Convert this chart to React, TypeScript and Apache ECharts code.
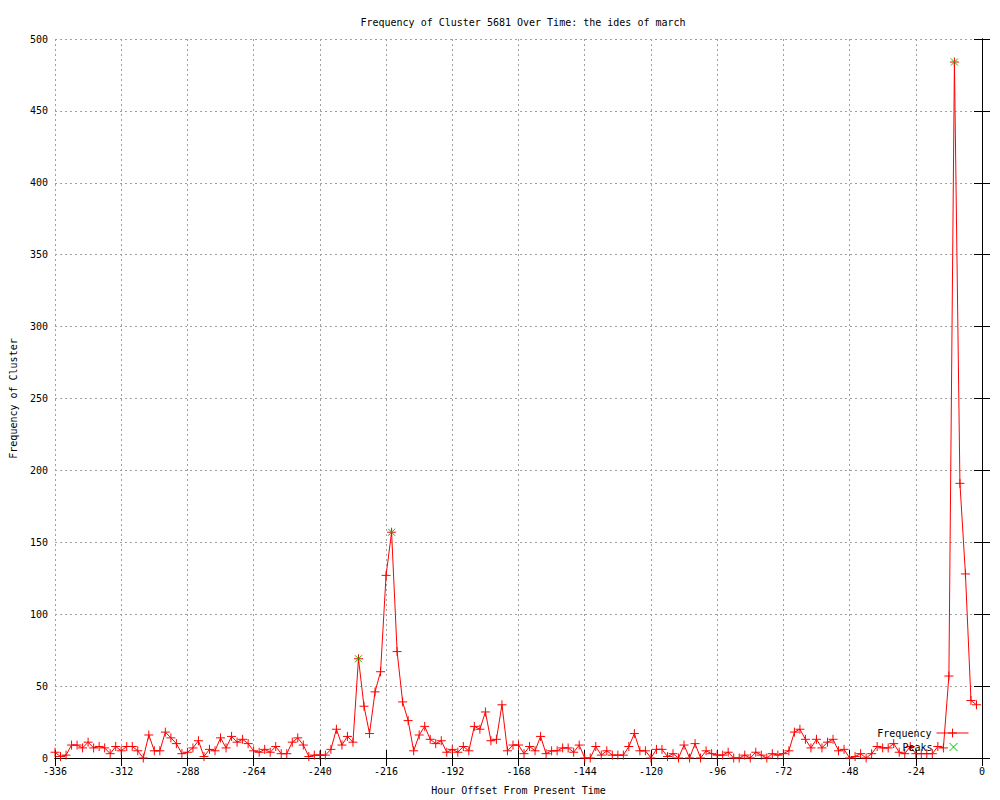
import { useEffect, useRef } from "react";
import * as echarts from "echarts";

const TITLE = "Frequency of Cluster 5681 Over Time: the ides of march";
const X_NAME = "Hour Offset From Present Time";
const Y_NAME = "Frequency of Cluster";
const LEGEND_NAMES = ["Frequency", "Peaks"];

const HOURS = [
  -336, -334, -332, -330, -328, -326, -324, -322, -320, -318, -316, -314,
  -312, -310, -308, -306, -304, -302, -300, -298, -296, -294, -292, -290,
  -288, -286, -284, -282, -280, -278, -276, -274, -272, -270, -268, -266,
  -264, -262, -260, -258, -256, -254, -252, -250, -248, -246, -244, -242,
  -240, -238, -236, -234, -232, -230, -228, -226, -224, -222, -220, -218,
  -216, -214, -212, -210, -208, -206, -204, -202, -200, -198, -196, -194,
  -192, -190, -188, -186, -184, -182, -180, -178, -176, -174, -172, -170,
  -168, -166, -164, -162, -160, -158, -156, -154, -152, -150, -148, -146,
  -144, -142, -140, -138, -136, -134, -132, -130, -128, -126, -124, -122,
  -120, -118, -116, -114, -112, -110, -108, -106, -104, -102, -100, -98,
  -96, -94, -92, -90, -88, -86, -84, -82, -80, -78, -76, -74,
  -72, -70, -68, -66, -64, -62, -60, -58, -56, -54, -52, -50,
  -48, -46, -44, -42, -40, -38, -36, -34, -32, -30, -28, -26,
  -24, -22, -20, -18, -16, -14, -12, -10, -8, -6, -4, -2,
];

const FREQUENCY = [
  4, 1, 2, 9, 9, 7, 11, 7, 8, 7, 3, 8,
  5, 8, 8, 5, 0, 16, 5, 5, 18, 14, 10, 3,
  4, 7, 12, 1, 6, 5, 14, 7, 15, 11, 13, 10,
  5, 4, 6, 4, 8, 3, 3, 11, 14, 9, 1, 2,
  2, 2, 6, 20, 9, 15, 11, 69, 36, 17, 46, 60,
  127, 157, 74, 39, 26, 5, 16, 22, 13, 10, 12, 4,
  6, 4, 8, 5, 22, 20, 32, 12, 13, 37, 5, 9,
  9, 3, 8, 5, 15, 3, 5, 5, 7, 7, 4, 9,
  0, 0, 8, 2, 5, 2, 2, 2, 8, 17, 5, 5,
  0, 6, 6, 1, 3, 0, 9, 0, 10, 0, 5, 3,
  2, 2, 4, 0, 0, 2, 0, 4, 2, 0, 3, 2,
  3, 5, 18, 20, 13, 7, 13, 7, 11, 13, 5, 6,
  0, 1, 3, 0, 3, 8, 7, 7, 10, 4, 3, 8,
  3, 3, 3, 3, 8, 7, 57, 484, 191, 128, 40, 37,
];

const PEAK_HOURS = [-226, -214, -10];
const PEAK_VALUES = [69, 157, 484];

const X_MIN = -336;
const X_MAX = 0;
const X_STEP = 24;
const Y_MIN = 0;
const Y_MAX = 500;
const Y_STEP = 50;

const FONT = "'DejaVu Sans Mono', 'Liberation Mono', monospace";
const RED = "#ff0000";
const GREEN = "#00c000";
const GRID_GRAY = "#a0a0a0";

const PLUS = "path://M0,4.5L9,4.5M4.5,0L4.5,9";
const CROSS = "path://M0,0L7,7M7,0L0,7";

export default function App() {
  const ref = useRef<HTMLDivElement>(null);

  useEffect(() => {
    if (!ref.current) return;
    const chart = echarts.init(ref.current, null, { renderer: "svg" });

    const axisLine = { show: true, lineStyle: { color: "#000", width: 1 } };
    const tick = { show: true, inside: true, length: 8, lineStyle: { color: "#000", width: 1 } };
    const split = { show: true, lineStyle: { color: GRID_GRAY, width: 1, type: [2, 3] as any } };
    const label = { color: "#000", fontFamily: FONT, fontSize: 10 };
    const legendText = { color: "#000", fontFamily: FONT, fontSize: 10 };

    chart.setOption({
      animation: false,
      backgroundColor: "#ffffff",
      color: [RED, GREEN],
      textStyle: { fontFamily: FONT },
      title: {
        text: TITLE,
        left: 518,
        top: 12,
        textAlign: "center",
        textStyle: { fontFamily: FONT, fontSize: 10, fontWeight: "normal", color: "#000" },
      },
      legend: [
        {
          data: [LEGEND_NAMES[0]],
          orient: "horizontal",
          right: 31,
          top: 728,
          align: "right",
          padding: 0,
          itemWidth: 32,
          itemHeight: 11,
          selectedMode: false,
          lineStyle: { width: 1 },
          itemStyle: { borderWidth: 1 },
          textStyle: legendText,
        },
        {
          data: [LEGEND_NAMES[1]],
          orient: "horizontal",
          right: 42,
          top: 742,
          align: "right",
          padding: 0,
          itemWidth: 32,
          itemHeight: 8,
          symbolKeepAspect: true,
          selectedMode: false,
          itemStyle: { borderWidth: 1 },
          textStyle: legendText,
        },
      ],
      grid: { left: 55, right: 18, top: 39, bottom: 40, containLabel: false },
      xAxis: [
        {
          type: "value",
          position: "bottom",
          min: X_MIN,
          max: X_MAX,
          interval: X_STEP,
          name: X_NAME,
          nameLocation: "middle",
          nameGap: 27,
          nameTextStyle: label,
          axisLine,
          axisTick: tick,
          axisLabel: { ...label, margin: 8 },
          splitLine: split,
        },
        {
          type: "value",
          position: "top",
          min: X_MIN,
          max: X_MAX,
          interval: X_STEP,
          axisLine,
          axisTick: tick,
          axisLabel: { show: false },
          splitLine: { show: false },
        },
      ],
      yAxis: [
        {
          type: "value",
          position: "left",
          min: Y_MIN,
          max: Y_MAX,
          interval: Y_STEP,
          name: Y_NAME,
          nameLocation: "middle",
          nameRotate: 90,
          nameGap: 37,
          nameTextStyle: label,
          axisLine,
          axisTick: tick,
          axisLabel: { ...label, margin: 7 },
          splitLine: split,
        },
        {
          type: "value",
          position: "right",
          min: Y_MIN,
          max: Y_MAX,
          interval: Y_STEP,
          axisLine,
          axisTick: tick,
          axisLabel: { show: false },
          splitLine: { show: false },
        },
      ],
      series: [
        {
          name: LEGEND_NAMES[0],
          type: "line",
          xAxisIndex: 0,
          yAxisIndex: 0,
          data: HOURS.map((h, i) => [h, FREQUENCY[i]]),
          showSymbol: true,
          symbol: PLUS,
          symbolSize: 9,
          lineStyle: { color: RED, width: 1 },
          itemStyle: { color: RED, borderColor: RED, borderWidth: 1 },
          emphasis: { disabled: true },
          z: 2,
        },
        {
          name: LEGEND_NAMES[1],
          type: "scatter",
          xAxisIndex: 0,
          yAxisIndex: 0,
          data: PEAK_HOURS.map((h, i) => [h, PEAK_VALUES[i]]),
          symbol: CROSS,
          symbolSize: 7,
          symbolKeepAspect: true,
          itemStyle: { color: GREEN, borderColor: GREEN, borderWidth: 1, opacity: 1 },
          emphasis: { disabled: true },
          z: 3,
        },
      ],
    });

    return () => chart.dispose();
  }, []);

  return (
    <div
      ref={ref}
      style={{ position: "absolute", left: 0, top: 0, width: 1000, height: 800, background: "#fff" }}
    />
  );
}
